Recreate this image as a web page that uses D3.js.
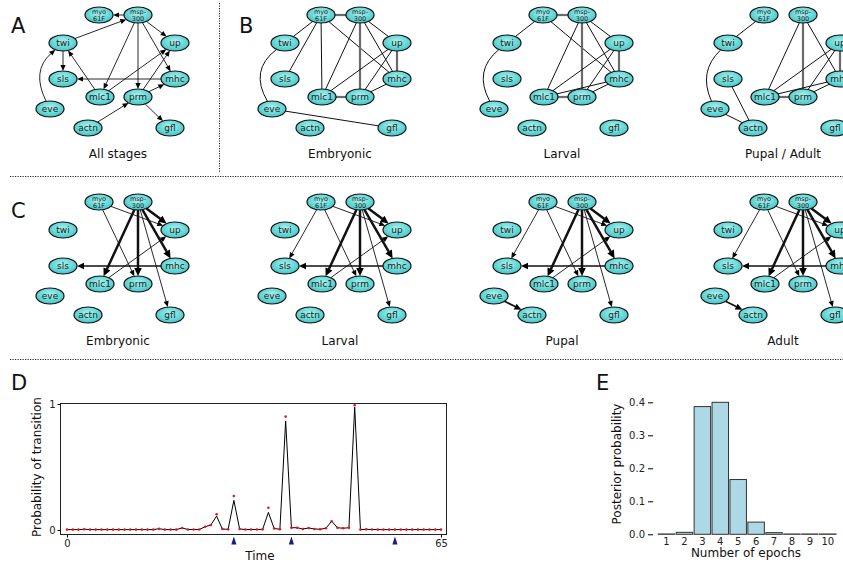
<!DOCTYPE html>
<html>
<head>
<meta charset="utf-8">
<script src="https://cdn.jsdelivr.net/npm/d3@7"></script>
<style>
  body { margin: 0; background: #fff; }
  svg { font-family: "DejaVu Sans", sans-serif; }
</style>
</head>
<body>
<svg id="fig" width="843" height="564"></svg>
<script>
// ---- network data ----
const genes = ["myo61F", "msp300", "twi", "up", "sls", "mhc", "mlc1", "prm", "eve", "actn", "gfl"];
const geneText = { myo61F: ["myo", "61F"], msp300: ["msp-", "300"] };

// edges: [source, target, weight, bend]
const edgesAll = [
  ["msp300", "myo61F", 1], ["twi", "msp300", 1], ["msp300", "up", 1], ["msp300", "mlc1", 1],
  ["msp300", "prm", 1], ["msp300", "mhc", 1], ["twi", "sls", 1], ["mlc1", "twi", 1],
  ["mlc1", "up", 1], ["prm", "up", 1], ["prm", "mhc", 1], ["mhc", "sls", 1],
  ["eve", "twi", 1, 26], ["actn", "prm", 1], ["prm", "gfl", 1]
];
const edgesEmb = [
  ["myo61F", "msp300", 3], ["myo61F", "twi", 1], ["myo61F", "sls", 1], ["myo61F", "mlc1", 1],
  ["myo61F", "mhc", 1], ["msp300", "mlc1", 1], ["msp300", "prm", 3], ["msp300", "up", 1],
  ["msp300", "mhc", 1], ["up", "mhc", 3], ["up", "mlc1", 1], ["up", "prm", 1],
  ["mhc", "prm", 1], ["mlc1", "prm", 3], ["eve", "twi", 1, 30], ["eve", "gfl", 1]
];
const edgesLar = [
  ["myo61F", "msp300", 3], ["myo61F", "twi", 1], ["myo61F", "mhc", 1],
  ["msp300", "mlc1", 1], ["msp300", "prm", 3], ["msp300", "up", 1], ["msp300", "mhc", 1],
  ["up", "mhc", 3], ["up", "mlc1", 1], ["up", "prm", 1], ["mhc", "mlc1", 1],
  ["mhc", "prm", 1], ["mlc1", "prm", 3], ["eve", "twi", 1, 28]
];
const edgesPupAd = [
  ["myo61F", "twi", 1], ["eve", "twi", 1, 24], ["sls", "actn", 1], ["eve", "actn", 1],
  ["msp300", "mlc1", 1], ["msp300", "prm", 3], ["msp300", "mhc", 1],
  ["up", "mhc", 3], ["up", "mlc1", 1], ["up", "prm", 1], ["mhc", "mlc1", 1],
  ["mhc", "prm", 1], ["mlc1", "prm", 3]
];
const edgesCEmb = [
  ["myo61F", "up", 1], ["myo61F", "prm", 1], ["msp300", "mlc1", 3], ["msp300", "prm", 3],
  ["msp300", "up", 3], ["msp300", "mhc", 3], ["msp300", "gfl", 1], ["mhc", "sls", 2], ["mlc1", "up", 1]
];
const edgesCLar = edgesCEmb.concat([["myo61F", "sls", 1]]);
const edgesCPup = edgesCLar.concat([["eve", "actn", 2]]);
const edgesCAd = edgesCPup;

const titlesB = ["Embryonic", "Larval", "Pupal / Adult"];
const titlesC = ["Embryonic", "Larval", "Pupal", "Adult"];

// ---- panel D data ----
const timePoints = d3.range(0, 66);
const transitionLine = [
  0.003, 0.003, 0.003, 0.006, 0.003, 0.003, 0.003, 0.003, 0.003, 0.003,
  0.003, 0.003, 0.003, 0.003, 0.003, 0.003, 0.010, 0.003, 0.003, 0.003,
  0.016, 0.004, 0.004, 0.004, 0.026, 0.040, 0.110, 0.008, 0.005, 0.235,
  0.008, 0.004, 0.004, 0.004, 0.005, 0.140, 0.012, 0.006, 0.865, 0.018,
  0.018, 0.008, 0.016, 0.008, 0.006, 0.014, 0.070, 0.018, 0.014, 0.018,
  0.975, 0.003, 0.005, 0.004, 0.003, 0.003, 0.003, 0.003, 0.003, 0.003,
  0.003, 0.003, 0.003, 0.003, 0.003, 0.003
];
const transitionDots = [
  0.003, 0.003, 0.003, 0.006, 0.003, 0.003, 0.003, 0.003, 0.003, 0.003,
  0.003, 0.003, 0.003, 0.003, 0.003, 0.003, 0.010, 0.003, 0.003, 0.003,
  0.016, 0.004, 0.004, 0.004, 0.026, 0.040, 0.125, 0.008, 0.005, 0.270,
  0.008, 0.004, 0.004, 0.004, 0.005, 0.177, 0.012, 0.006, 0.900, 0.018,
  0.018, 0.008, 0.016, 0.008, 0.006, 0.014, 0.070, 0.018, 0.014, 0.018,
  0.990, 0.003, 0.005, 0.004, 0.003, 0.003, 0.003, 0.003, 0.003, 0.003,
  0.003, 0.003, 0.003, 0.003, 0.003, 0.003
];
const stageMarks = [29, 39, 57];

// ---- panel E data ----
const epochs = ["1", "2", "3", "4", "5", "6", "7", "8", "9", "10"];
const posterior = [0.001, 0.006, 0.387, 0.400, 0.166, 0.037, 0.005, 0.001, 0.001, 0.001];

// ---- layout ----
const layout = {
  myo61F: [99, 15], msp300: [138, 15], twi: [63, 43], up: [175, 43],
  sls: [63, 79], mhc: [175, 79], mlc1: [100, 97], prm: [138, 97],
  eve: [50, 109], actn: [88, 128], gfl: [170, 128]
};
const panelX = [0, 222, 444, 665];
const rowY = [0, 187];
const RX = 14, RY = 8;

const svg = d3.select("#fig");
const defs = svg.append("defs");
const grad = defs.append("radialGradient").attr("id", "nodeFill")
  .attr("cx", "50%").attr("cy", "40%").attr("r", "65%");
grad.append("stop").attr("offset", "0%").attr("stop-color", "#a9f3f1");
grad.append("stop").attr("offset", "100%").attr("stop-color", "#38c2c2");

// point on the node ellipse in direction (dx, dy)
function clip(cx, cy, dx, dy) {
  const t = 1 / Math.sqrt((dx / RX) ** 2 + (dy / RY) ** 2);
  return [cx + dx * t, cy + dy * t];
}

function drawNetwork(g, edges, directed, title) {
  const eg = g.append("g");
  edges.forEach(([s, t, w, bend]) => {
    const [x1, y1] = layout[s], [x2, y2] = layout[t];
    const dx = x2 - x1, dy = y2 - y1, len = Math.hypot(dx, dy);
    const ctrl = bend ? [(x1 + x2) / 2 + dy / len * bend, (y1 + y2) / 2 - dx / len * bend] : null;
    const aim1 = ctrl || [x2, y2], aim2 = ctrl || [x1, y1];
    const p1 = clip(x1, y1, aim1[0] - x1, aim1[1] - y1);
    let p2 = clip(x2, y2, aim2[0] - x2, aim2[1] - y2);
    let stroke = "#111", sw = 1;
    if (directed) {
      sw = [0, 0.9, 1.7, 2.5][w];
      const ux = p2[0] - aim2[0], uy = p2[1] - aim2[1];
      const ul = Math.hypot(ux, uy), nx = ux / ul, ny = uy / ul;
      const L = 5 + w, H = 2 + w * 0.6;
      const bx = p2[0] - nx * L, by = p2[1] - ny * L;
      eg.append("path")
        .attr("d", `M${p2[0]},${p2[1]}L${bx - ny * H},${by + nx * H}L${bx + ny * H},${by - nx * H}Z`)
        .attr("fill", "#000");
      p2 = [bx + nx * 0.5, by + ny * 0.5];
    } else if (w === 3) {
      stroke = "#6a6a6a"; sw = 2.2;
    }
    const path = d3.path();
    path.moveTo(p1[0], p1[1]);
    if (ctrl) path.quadraticCurveTo(ctrl[0], ctrl[1], p2[0], p2[1]);
    else path.lineTo(p2[0], p2[1]);
    eg.append("path").attr("d", path.toString())
      .attr("fill", "none").attr("stroke", stroke).attr("stroke-width", sw);
  });

  const ng = g.selectAll("g.node").data(genes).join("g")
    .attr("class", "node")
    .attr("transform", d => `translate(${layout[d][0]},${layout[d][1]})`);
  ng.append("ellipse").attr("rx", RX).attr("ry", RY)
    .attr("fill", "url(#nodeFill)").attr("stroke", "#111").attr("stroke-width", 1.2);
  ng.each(function (d) {
    const sel = d3.select(this);
    if (geneText[d]) {
      geneText[d].forEach((line, i) => {
        sel.append("text").attr("y", i === 0 ? -1.5 : 5.5).attr("text-anchor", "middle")
          .attr("font-size", 6.5).attr("fill", "#222").text(line);
      });
    } else {
      sel.append("text").attr("y", 3.2).attr("text-anchor", "middle")
        .attr("font-size", 9).attr("fill", "#222").text(d);
    }
  });

  g.append("text").attr("x", 118).attr("y", 158).attr("text-anchor", "middle")
    .attr("font-size", 12).attr("fill", "#111").text(title);
}

// panel A
drawNetwork(svg.append("g").attr("transform", `translate(${panelX[0]},${rowY[0]})`), edgesAll, true, "All stages");
// panel B
[edgesEmb, edgesLar, edgesPupAd].forEach((e, i) => {
  drawNetwork(svg.append("g").attr("transform", `translate(${panelX[i + 1]},${rowY[0]})`), e, false, titlesB[i]);
});
// panel C
[edgesCEmb, edgesCLar, edgesCPup, edgesCAd].forEach((e, i) => {
  drawNetwork(svg.append("g").attr("transform", `translate(${panelX[i]},${rowY[1]})`), e, true, titlesC[i]);
});

// separators
const sep = svg.append("g").attr("stroke", "#222").attr("stroke-dasharray", "1.2,1.3").attr("stroke-width", 1);
sep.append("line").attr("x1", 219.5).attr("x2", 219.5).attr("y1", 3).attr("y2", 173);
sep.append("line").attr("x1", 10).attr("x2", 843).attr("y1", 176.5).attr("y2", 176.5);
sep.append("line").attr("x1", 10).attr("x2", 843).attr("y1", 359.5).attr("y2", 359.5);

// panel letters
[["A", 11, 33], ["B", 239, 33], ["C", 11, 218], ["D", 11, 390], ["E", 596, 390]].forEach(([t, x, y]) => {
  svg.append("text").attr("x", x).attr("y", y).attr("font-size", 21).attr("fill", "#111").text(t);
});

// ---- panel D ----
const xD = d3.scaleLinear().domain([0, 65]).range([67, 441]);
const yD = d3.scaleLinear().domain([0, 1]).range([530, 404]);
const gD = svg.append("g");
gD.append("rect").attr("x", 60.5).attr("y", 403.5).attr("width", 386).attr("height", 131)
  .attr("fill", "none").attr("stroke", "#222");
gD.append("g").attr("transform", "translate(60.5,0)")
  .call(d3.axisLeft(yD).tickValues([0, 1]).tickFormat(d3.format("d")).tickSize(3).tickPadding(2))
  .call(g => g.select(".domain").remove())
  .call(g => g.selectAll("text").attr("font-family", "DejaVu Sans").attr("font-size", 10).attr("fill", "#222"));
gD.append("g").attr("transform", "translate(0,534.5)")
  .call(d3.axisBottom(xD).tickValues([0, 65]).tickSize(3).tickPadding(2))
  .call(g => g.select(".domain").remove())
  .call(g => g.selectAll("text").attr("font-family", "DejaVu Sans").attr("font-size", 10).attr("fill", "#222"));
gD.append("path").datum(transitionLine)
  .attr("d", d3.line().x((d, i) => xD(timePoints[i])).y(d => yD(d)))
  .attr("fill", "none").attr("stroke", "#000").attr("stroke-width", 1);
gD.selectAll("circle.dot").data(transitionDots).join("circle").attr("class", "dot")
  .attr("cx", (d, i) => xD(timePoints[i])).attr("cy", d => yD(d)).attr("r", 1.3).attr("fill", "#e8141c");
gD.selectAll("path.mark").data(stageMarks).join("path").attr("class", "mark")
  .attr("d", d => `M${xD(d) - 2.6},544.5L${xD(d)},536.5L${xD(d) + 2.6},544.5Z`)
  .attr("fill", "#1c1c7c");
gD.append("text").attr("x", 260).attr("y", 559.5).attr("text-anchor", "middle")
  .attr("font-size", 12).attr("fill", "#111").text("Time");
gD.append("text").attr("transform", "translate(41,467) rotate(-90)").attr("text-anchor", "middle")
  .attr("font-size", 12).attr("fill", "#111").text("Probability of transition");

// ---- panel E ----
const xE = d3.scaleBand().domain(epochs).range([658.3, 836]).paddingInner(0.08);
const yE = d3.scaleLinear().domain([0, 0.4]).range([534.3, 402.3]);
const gE = svg.append("g");
gE.selectAll("rect.bar").data(posterior).join("rect").attr("class", "bar")
  .attr("x", (d, i) => xE(epochs[i])).attr("y", d => yE(d))
  .attr("width", xE.bandwidth()).attr("height", d => yE(0) - yE(d))
  .attr("fill", "#add8e6").attr("stroke", "#333").attr("stroke-width", 1);
gE.append("g").attr("transform", "translate(653,0)")
  .call(d3.axisLeft(yE).tickValues([0, 0.1, 0.2, 0.3, 0.4]).tickFormat(d3.format(".1f")).tickSize(5).tickPadding(3))
  .call(g => g.select(".domain").remove())
  .call(g => g.selectAll("text").attr("font-family", "DejaVu Sans").attr("font-size", 10).attr("fill", "#222"));
gE.append("g").attr("transform", "translate(0,534.3)")
  .call(d3.axisBottom(xE).tickSize(0).tickPadding(4))
  .call(g => g.select(".domain").remove())
  .call(g => g.selectAll("text").attr("font-family", "DejaVu Sans").attr("font-size", 10).attr("fill", "#222"));
gE.append("text").attr("x", 746).attr("y", 557).attr("text-anchor", "middle")
  .attr("font-size", 12).attr("fill", "#111").text("Number of epochs");
gE.append("text").attr("transform", "translate(621,464) rotate(-90)").attr("text-anchor", "middle")
  .attr("font-size", 12).attr("fill", "#111").text("Posterior probability");
</script>
</body>
</html>
